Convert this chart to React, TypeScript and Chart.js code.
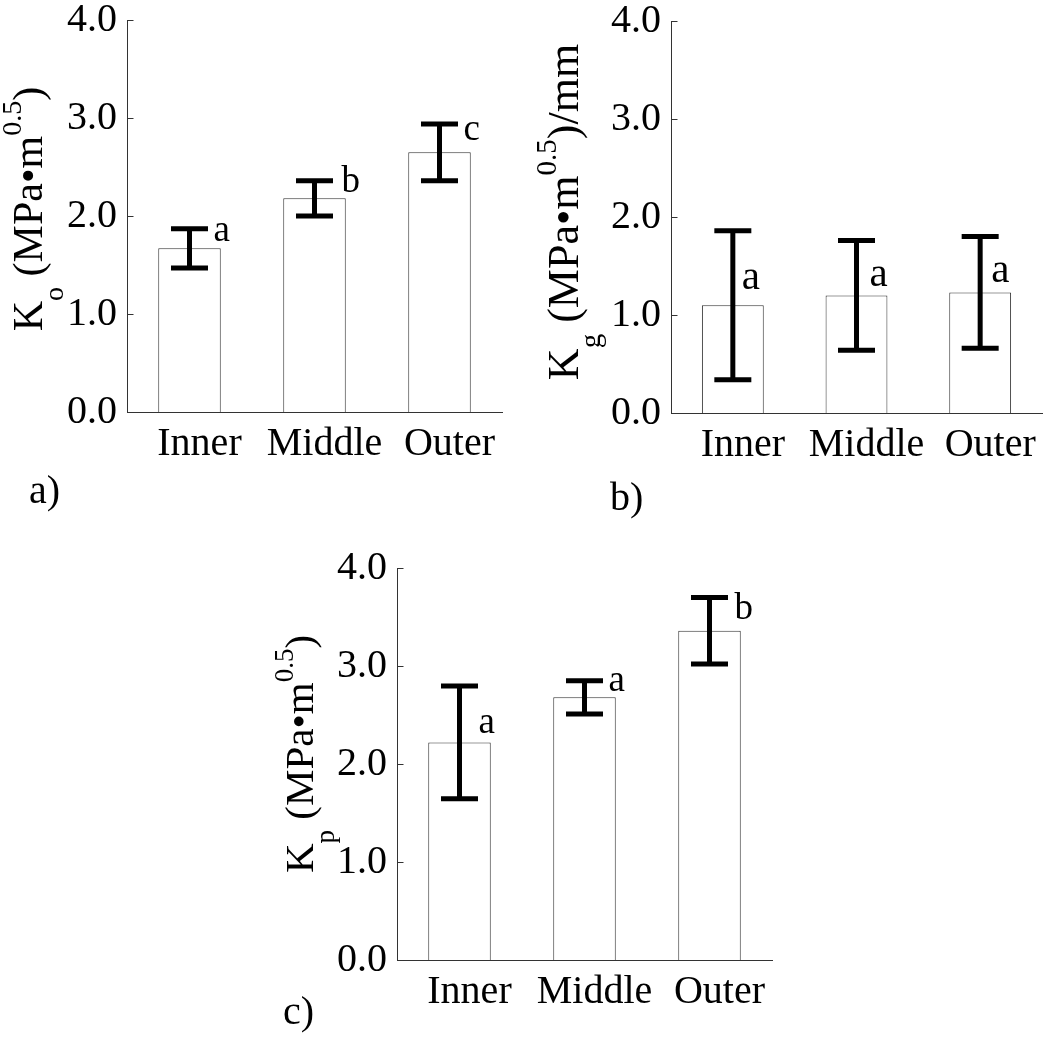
import React, { useEffect, useRef } from 'react';
import { Chart, registerables } from 'chart.js';

Chart.register(...registerables);

// ---------- data ----------
const categories = ['Inner', 'Middle', 'Outer'];
const yTickValues = [0, 1, 2, 3, 4];

const koMeans = [1.67, 2.18, 2.65];
const koErrors = [0.2, 0.18, 0.29];
const koLetters = ['a', 'b', 'c'];
const koLetterAt = [1.74, 2.24, 2.78];

const kgMeans = [1.1, 1.2, 1.23];
const kgErrors = [0.76, 0.56, 0.57];
const kgLetters = ['a', 'a', 'a'];
const kgLetterAt = [1.27, 1.3, 1.34];

const kpMeans = [2.22, 2.68, 3.36];
const kpErrors = [0.575, 0.17, 0.34];
const kpLetters = ['a', 'a', 'b'];
const kpLetterAt = [2.32, 2.745, 3.476];

// ---------- styling ----------
const FONT = '"Liberation Serif", "Times New Roman", serif';
const AXIS = '#333333';

type Part = { text: string; size: number; dy: number };

type PanelCfg = {
  left: number;
  top: number;
  width: number;
  height: number;
  area: { left: number; top: number; right: number; bottom: number };
  means: number[];
  errors: number[];
  letters: string[];
  letterAt: number[];
  letterDx: number[];
  letterSize: number;
  title: Part[];
  titleX: number;
  titleShift: number;
  label: string;
  labelX: number;
  labelY: number;
};

function titleParts(sub: string, tail: string, size: number): Part[] {
  const small = Math.round(size * 0.67);
  const off = size * 0.5;
  return [
    { text: 'K', size, dy: 0 },
    { text: sub, size: small, dy: off },
    { text: ' (MPa\u2022m', size, dy: 0 },
    { text: '0.5', size: small, dy: -off },
    { text: tail, size, dy: 0 },
  ];
}

const panels: PanelCfg[] = [
  {
    left: 0, top: 0, width: 525, height: 530,
    area: { left: 127, top: 20, right: 502, bottom: 412 },
    means: koMeans, errors: koErrors, letters: koLetters, letterAt: koLetterAt,
    letterDx: [24, 27, 24], letterSize: 37,
    title: titleParts('o', ')', 42),
    titleX: 42, titleShift: -7,
    label: 'a)', labelX: 29, labelY: 503,
  },
  {
    left: 525, top: 0, width: 525, height: 530,
    area: { left: 146, top: 21, right: 517, bottom: 413 },
    means: kgMeans, errors: kgErrors, letters: kgLetters, letterAt: kgLetterAt,
    letterDx: [9, 13, 11], letterSize: 41,
    title: titleParts('g', ')/mm', 44),
    titleX: 53, titleShift: -5,
    label: 'b)', labelX: 85, labelY: 510,
  },
  {
    left: 260, top: 530, width: 540, height: 509,
    area: { left: 137, top: 38, right: 512, bottom: 430 },
    means: kpMeans, errors: kpErrors, letters: kpLetters, letterAt: kpLetterAt,
    letterDx: [19, 24, 25], letterSize: 37,
    title: titleParts('p', ')', 41),
    titleX: 53, titleShift: -10,
    label: 'c)', labelX: 23, labelY: 494,
  },
];

function makeDecorPlugin(cfg: PanelCfg) {
  return {
    id: 'decor',
    afterDatasetsDraw(chart: any) {
      const ctx: CanvasRenderingContext2D = chart.ctx;
      const ys = chart.scales.y;
      const meta = chart.getDatasetMeta(0);
      ctx.save();
      // error bars
      ctx.strokeStyle = '#000';
      ctx.lineWidth = 5;
      ctx.lineCap = 'butt';
      cfg.means.forEach((m, i) => {
        const x = meta.data[i].x;
        const yTop = ys.getPixelForValue(m + cfg.errors[i]);
        const yBot = ys.getPixelForValue(m - cfg.errors[i]);
        const half = 18.5;
        ctx.beginPath();
        ctx.moveTo(x, yTop);
        ctx.lineTo(x, yBot);
        ctx.moveTo(x - half, yTop);
        ctx.lineTo(x + half, yTop);
        ctx.moveTo(x - half, yBot);
        ctx.lineTo(x + half, yBot);
        ctx.stroke();
        // significance letters
        ctx.fillStyle = '#000';
        ctx.font = `${cfg.letterSize}px ${FONT}`;
        ctx.textAlign = 'left';
        ctx.textBaseline = 'alphabetic';
        ctx.fillText(cfg.letters[i], x + cfg.letterDx[i], ys.getPixelForValue(cfg.letterAt[i]));
      });
      // inward tick marks on y axis
      ctx.strokeStyle = AXIS;
      ctx.lineWidth = 1;
      const ax = Math.round(chart.chartArea.left) + 0.5;
      yTickValues.forEach((v) => {
        const y = Math.round(ys.getPixelForValue(v)) + 0.5;
        ctx.beginPath();
        ctx.moveTo(ax, y);
        ctx.lineTo(ax + 6, y);
        ctx.stroke();
      });
      ctx.restore();
    },
    afterDraw(chart: any) {
      const ctx: CanvasRenderingContext2D = chart.ctx;
      const area = chart.chartArea;
      ctx.save();
      ctx.fillStyle = '#000';
      ctx.textBaseline = 'alphabetic';
      ctx.textAlign = 'left';
      // rotated y-axis title with sub/superscripts
      let total = 0;
      cfg.title.forEach((p) => {
        ctx.font = `${p.size}px ${FONT}`;
        total += ctx.measureText(p.text).width;
      });
      const cy = (area.top + area.bottom) / 2 + cfg.titleShift;
      ctx.translate(cfg.titleX, cy);
      ctx.rotate(-Math.PI / 2);
      let pos = -total / 2;
      cfg.title.forEach((p) => {
        ctx.font = `${p.size}px ${FONT}`;
        ctx.fillText(p.text, pos, p.dy);
        pos += ctx.measureText(p.text).width;
      });
      ctx.restore();
      // panel label
      ctx.save();
      ctx.fillStyle = '#000';
      ctx.font = `40px ${FONT}`;
      ctx.textAlign = 'left';
      ctx.textBaseline = 'alphabetic';
      ctx.fillText(cfg.label, cfg.labelX, cfg.labelY);
      ctx.restore();
    },
  };
}

function Panel({ cfg }: { cfg: PanelCfg }) {
  const ref = useRef<HTMLCanvasElement | null>(null);
  useEffect(() => {
    if (!ref.current) return;
    const font = { family: FONT, size: 40 };
    const chart = new Chart(ref.current, {
      type: 'bar',
      data: {
        labels: categories,
        datasets: [
          {
            data: cfg.means,
            backgroundColor: '#ffffff',
            borderColor: AXIS,
            borderWidth: 1,
            barPercentage: 0.5,
            categoryPercentage: 1,
          },
        ],
      },
      plugins: [makeDecorPlugin(cfg)],
      options: {
        responsive: false,
        animation: false,
        events: [],
        layout: {
          autoPadding: false,
          padding: {
            left: 0,
            top: cfg.area.top,
            right: cfg.width - cfg.area.right,
            bottom: 0,
          },
        },
        plugins: {
          legend: { display: false },
          tooltip: { enabled: false },
          title: { display: false },
        },
        scales: {
          x: {
            type: 'category',
            offset: true,
            grid: { display: false, drawTicks: false },
            border: { display: true, color: AXIS, width: 1 },
            ticks: {
              font,
              color: '#000',
              padding: 8,
              labelOffset: 10,
              maxRotation: 0,
              autoSkip: false,
            },
            afterFit: (s: any) => {
              s.height = cfg.height - cfg.area.bottom;
              s.paddingLeft = 0;
              s.paddingRight = 0;
              s.paddingTop = 0;
              s.paddingBottom = 0;
            },
          },
          y: {
            type: 'linear',
            min: 0,
            max: 4,
            grid: { display: false, drawTicks: false },
            border: { display: true, color: AXIS, width: 1 },
            ticks: {
              stepSize: 1,
              font,
              color: '#000',
              padding: 10,
              callback: (v: any) => Number(v).toFixed(1),
            },
            afterFit: (s: any) => {
              s.width = cfg.area.left;
              s.paddingTop = 0;
              s.paddingBottom = 0;
              s.paddingLeft = 0;
              s.paddingRight = 0;
            },
          },
        },
      } as any,
    });
    return () => chart.destroy();
  }, [cfg]);
  return (
    <canvas
      ref={ref}
      width={cfg.width}
      height={cfg.height}
      style={{
        position: 'absolute',
        left: cfg.left,
        top: cfg.top,
        width: cfg.width,
        height: cfg.height,
        display: 'block',
      }}
    />
  );
}

export default function App() {
  return (
    <div
      style={{
        position: 'absolute',
        left: 0,
        top: 0,
        width: 1050,
        height: 1039,
        background: '#ffffff',
        overflow: 'hidden',
      }}
    >
      {panels.map((p, i) => (
        <Panel key={i} cfg={p} />
      ))}
    </div>
  );
}
